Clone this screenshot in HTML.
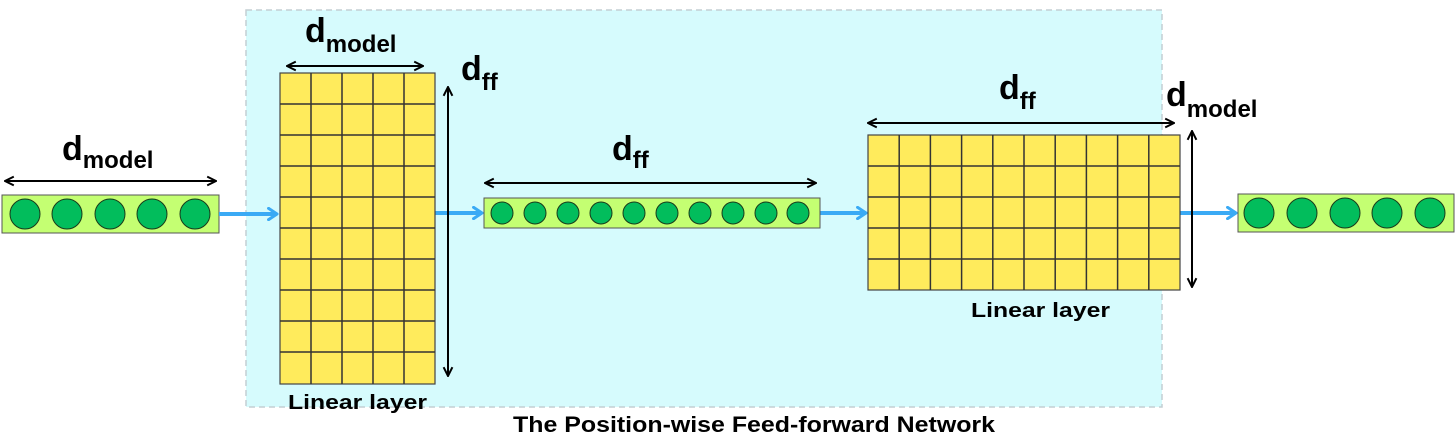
<!DOCTYPE html>
<html><head><meta charset="utf-8"><style>
html,body{margin:0;padding:0;background:#fff;}
svg{display:block;}
text{font-family:"Liberation Sans",sans-serif;font-weight:bold;fill:#000;}
</style></head><body>
<svg width="1456" height="445" viewBox="0 0 1456 445" xmlns="http://www.w3.org/2000/svg">
<defs>
<marker id="ah" viewBox="0 0 10 10" refX="9" refY="5" markerWidth="11" markerHeight="11" markerUnits="userSpaceOnUse" orient="auto-start-reverse">
<path d="M1,1 L9,5 L1,9" fill="none" stroke="#000" stroke-width="1.8"/>
</marker>
<marker id="bh" viewBox="0 0 10 10" refX="8" refY="5" markerWidth="14" markerHeight="14" markerUnits="userSpaceOnUse" orient="auto">
<path d="M2,1 L8,5 L2,9" fill="none" stroke="#3aaaf5" stroke-width="2.2" stroke-linecap="round" stroke-linejoin="round"/>
</marker>
</defs>
<rect x="246" y="10" width="916" height="397" fill="#d6fbfd" stroke="#c4cfd3" stroke-width="1.5" stroke-dasharray="6,4"/>

<rect x="2" y="195" width="217" height="38" fill="#c4ff72" stroke="#555" stroke-width="1"/>
<g fill="#02bd5c" stroke="#1a3a1a" stroke-width="1">
<circle cx="25" cy="214" r="15"/><circle cx="67" cy="214" r="15"/><circle cx="110" cy="214" r="15"/><circle cx="152" cy="214" r="15"/><circle cx="195" cy="214" r="15"/>
</g>
<line x1="5" y1="181" x2="216" y2="181" stroke="#000" stroke-width="2" marker-start="url(#ah)" marker-end="url(#ah)"/>
<text x="62" y="160" font-size="34">d<tspan font-size="24" dy="8">model</tspan></text>

<g stroke="#3aaaf5" stroke-width="4" fill="none" marker-end="url(#bh)">
<line x1="219" y1="214" x2="277" y2="214"/>
<line x1="435" y1="213" x2="482" y2="213"/>
<line x1="820" y1="213" x2="866" y2="213"/>
<line x1="1180" y1="213" x2="1236" y2="213"/>
</g>

<rect x="280" y="73" width="155" height="311" fill="#ffeb5c" stroke="#444" stroke-width="1.2"/>
<g stroke="#333" stroke-width="1.5">
<line x1="311" y1="73" x2="311" y2="384"/><line x1="342" y1="73" x2="342" y2="384"/><line x1="373" y1="73" x2="373" y2="384"/><line x1="404" y1="73" x2="404" y2="384"/>
<line x1="280" y1="104" x2="435" y2="104"/><line x1="280" y1="135" x2="435" y2="135"/><line x1="280" y1="166" x2="435" y2="166"/><line x1="280" y1="197" x2="435" y2="197"/><line x1="280" y1="228" x2="435" y2="228"/><line x1="280" y1="259" x2="435" y2="259"/><line x1="280" y1="290" x2="435" y2="290"/><line x1="280" y1="321" x2="435" y2="321"/><line x1="280" y1="352" x2="435" y2="352"/>
</g>
<line x1="287" y1="66" x2="423" y2="66" stroke="#000" stroke-width="2" marker-start="url(#ah)" marker-end="url(#ah)"/>
<text x="305" y="42" font-size="34">d<tspan font-size="24" dy="10">model</tspan></text>
<line x1="448" y1="87" x2="448" y2="376" stroke="#000" stroke-width="2" marker-start="url(#ah)" marker-end="url(#ah)"/>
<text x="461" y="80" font-size="34">d<tspan font-size="24" dy="10">ff</tspan></text>
<text x="288" y="409" font-size="20" textLength="139" lengthAdjust="spacingAndGlyphs">Linear layer</text>

<rect x="484" y="198" width="336" height="30" fill="#c4ff72" stroke="#555" stroke-width="1"/>
<g fill="#02bd5c" stroke="#1a3a1a" stroke-width="1">
<circle cx="502" cy="213" r="11"/><circle cx="535" cy="213" r="11"/><circle cx="568" cy="213" r="11"/><circle cx="601" cy="213" r="11"/><circle cx="634" cy="213" r="11"/><circle cx="667" cy="213" r="11"/><circle cx="700" cy="213" r="11"/><circle cx="733" cy="213" r="11"/><circle cx="766" cy="213" r="11"/><circle cx="798" cy="213" r="11"/>
</g>
<line x1="485" y1="183" x2="816" y2="183" stroke="#000" stroke-width="2" marker-start="url(#ah)" marker-end="url(#ah)"/>
<text x="612" y="160" font-size="34">d<tspan font-size="24" dy="8">ff</tspan></text>

<rect x="868" y="135" width="312" height="155" fill="#ffeb5c" stroke="#444" stroke-width="1.2"/>
<g stroke="#333" stroke-width="1.5">
<line x1="899.2" y1="135" x2="899.2" y2="290"/><line x1="930.4" y1="135" x2="930.4" y2="290"/><line x1="961.6" y1="135" x2="961.6" y2="290"/><line x1="992.8" y1="135" x2="992.8" y2="290"/><line x1="1024" y1="135" x2="1024" y2="290"/><line x1="1055.2" y1="135" x2="1055.2" y2="290"/><line x1="1086.4" y1="135" x2="1086.4" y2="290"/><line x1="1117.6" y1="135" x2="1117.6" y2="290"/><line x1="1148.8" y1="135" x2="1148.8" y2="290"/>
<line x1="868" y1="166" x2="1180" y2="166"/><line x1="868" y1="197" x2="1180" y2="197"/><line x1="868" y1="228" x2="1180" y2="228"/><line x1="868" y1="259" x2="1180" y2="259"/>
</g>
<line x1="868" y1="123" x2="1174" y2="123" stroke="#000" stroke-width="2" marker-start="url(#ah)" marker-end="url(#ah)"/>
<text x="999" y="99" font-size="34">d<tspan font-size="24" dy="10">ff</tspan></text>
<line x1="1192" y1="131" x2="1192" y2="287" stroke="#000" stroke-width="2" marker-start="url(#ah)" marker-end="url(#ah)"/>
<text x="1166" y="106" font-size="34">d<tspan font-size="24" dy="11">model</tspan></text>
<text x="971" y="317" font-size="20" textLength="139" lengthAdjust="spacingAndGlyphs">Linear layer</text>

<rect x="1238" y="194" width="216" height="38" fill="#c4ff72" stroke="#555" stroke-width="1"/>
<g fill="#02bd5c" stroke="#1a3a1a" stroke-width="1">
<circle cx="1259" cy="213" r="15"/><circle cx="1302" cy="213" r="15"/><circle cx="1345" cy="213" r="15"/><circle cx="1387" cy="213" r="15"/><circle cx="1430" cy="213" r="15"/>
</g>

<text x="513" y="432" font-size="22" textLength="482" lengthAdjust="spacingAndGlyphs">The Position-wise Feed-forward Network</text>
</svg>
</body></html>
